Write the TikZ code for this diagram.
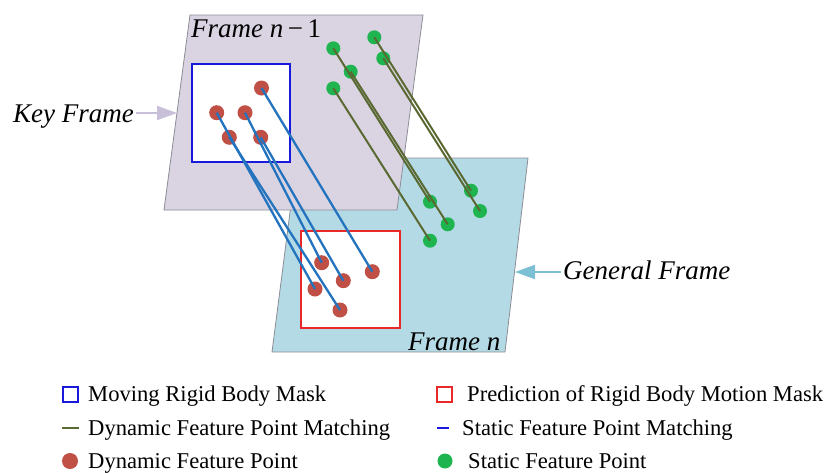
\documentclass[tikz,border=0pt]{standalone}
\usepackage{fontspec}
\setmainfont{Liberation Serif}
\usepackage{tikz}
\usetikzlibrary{arrows.meta}

\definecolor{keyfill}{RGB}{218,212,226}
\definecolor{genfill}{RGB}{180,219,229}
\definecolor{frameedge}{RGB}{140,140,150}
\definecolor{maskblue}{RGB}{25,25,220}
\definecolor{maskred}{RGB}{235,40,40}
\definecolor{dotred}{RGB}{192,80,70}
\definecolor{dotgreen}{RGB}{30,180,80}
\definecolor{lineblue}{RGB}{35,115,190}
\definecolor{lineolive}{RGB}{90,105,50}
\definecolor{keyarrow}{RGB}{200,192,216}
\definecolor{genarrow}{RGB}{125,192,212}

\begin{document}
\begin{tikzpicture}[x=1pt, y=-1pt,
        reddot/.style={shape=circle, fill=dotred, inner sep=0pt, minimum size=15pt},
        greendot/.style={shape=circle, fill=dotgreen, inner sep=0pt, minimum size=14pt},
        staticmatch/.style={line width=2.3pt, lineblue},
        dynmatch/.style={line width=2pt, lineolive},
        maskbox/.style={shape=rectangle, line width=2pt, inner sep=0pt},
        framelabel/.style={font=\fontsize{27}{32}\selectfont\itshape, inner sep=0pt, anchor=base west},
        legendtext/.style={font=\fontsize{22.6}{27}\selectfont, inner sep=0pt, anchor=base west}]
            \useasboundingbox (0,0) rectangle (825,472);

            % the two frames
            \filldraw[fill=genfill, draw=frameedge, line width=0.8pt] (297,158) -- (528,158) -- (505,352) -- (272,352) -- cycle;
            \filldraw[fill=keyfill, draw=frameedge, line width=0.8pt] (190,15) -- (423,15) -- (397,210) -- (164,210) -- cycle;

            % masks
            \draw[maskbox, draw=maskblue, fill=white] (192,64) rectangle (290,162);
            \draw[maskbox, draw=maskred, fill=white] (301,231) rectangle (400,328);

            % feature points, frame n-1
            \node[reddot] (ka) at (261.5, 88) {};
            \node[reddot] (kb) at (216.7, 112.7) {};
            \node[reddot] (kc) at (245, 112.7) {};
            \node[reddot] (kd) at (229.3, 137.3) {};
            \node[reddot] (ke) at (260.7, 137.3) {};

            \node[greendot] (ga) at (333.3, 48.3) {};
            \node[greendot] (gb) at (374.3, 37.3) {};
            \node[greendot] (gc) at (350.7, 71.7) {};
            \node[greendot] (gd) at (383.3, 58.3) {};
            \node[greendot] (ge) at (333.3, 88.3) {};

            % feature points, frame n
            \node[reddot] (np) at (321.7, 262.7) {};
            \node[reddot] (nq) at (372.3, 271.7) {};
            \node[reddot] (nr) at (343.3, 280.7) {};
            \node[reddot] (ns) at (315, 289) {};
            \node[reddot] (nt) at (340, 310) {};

            \node[greendot] (ha) at (430, 201.7) {};
            \node[greendot] (hb) at (471, 190.7) {};
            \node[greendot] (hc) at (447.7, 224.3) {};
            \node[greendot] (hd) at (480, 211) {};
            \node[greendot] (he) at (430, 240.7) {};

            % matchings
            \path [staticmatch] (ka.center) edge (nq.center);
            \path [staticmatch] (kb.center) edge (ns.center);
            \path [staticmatch] (kc.center) edge (np.center);
            \path [staticmatch] (kd.center) edge (nt.center);
            \path [staticmatch] (ke.center) edge (nr.center);

            \path [dynmatch] (ga.center) edge (ha.center);
            \path [dynmatch] (gb.center) edge (hb.center);
            \path [dynmatch] (gc.center) edge (hc.center);
            \path [dynmatch] (gd.center) edge (hd.center);
            \path [dynmatch] (ge.center) edge (he.center);

            % frame labels
            \node[framelabel] (prevlbl) at (191,37.5) {Frame n\,\textup{−\,1}};
            \node[framelabel] (curlbl) at (408,350) {Frame n};
            \node[framelabel] (keylbl) at (13,122) {Key Frame};
            \node[framelabel] (genlbl) at (563,279) {General Frame};
            \coordinate (keytip) at (177,113);
            \coordinate (gentip) at (515,272);
            \draw[keyarrow, line width=2pt, -{Triangle[length=20pt, width=14pt]}] (keylbl.east |- keytip) ++(2,0) -- (keytip);
            \draw[genarrow, line width=2pt, -{Triangle[length=20pt, width=14pt]}] (genlbl.west |- gentip) ++(-2,0) -- (gentip);

            % legend
            \node[maskbox, draw=maskblue, minimum size=15pt] (legmove) at (70.5,394.5) {};
            \node[legendtext] (txtmove) at (88,401.5) {Moving Rigid Body Mask};
            \node[maskbox, draw=maskred, minimum size=15pt] (legpred) at (444.5,394.5) {};
            \node[legendtext] (txtpred) at (467,401.5) {Prediction of Rigid Body Motion Mask};

            \coordinate (dynl) at (62,427.5);
            \coordinate (dynr) at (79,427.5);
            \draw[lineolive, line width=2pt] (dynl) -- (dynr);
            \node[legendtext] (txtdyn) at (88,435) {Dynamic Feature Point Matching};
            \coordinate (statl) at (437,427.5);
            \coordinate (statr) at (449,427.5);
            \draw[maskblue, line width=2pt] (statl) -- (statr);
            \node[legendtext] (txtstat) at (462,435) {Static Feature Point Matching};

            \node[reddot, minimum size=16pt] (legred) at (70,461) {};
            \node[legendtext] (txtred) at (88,468) {Dynamic Feature Point};
            \node[greendot, minimum size=15pt] (leggreen) at (445,461) {};
            \node[legendtext] (txtgreen) at (468,468) {Static Feature Point};
        \end{tikzpicture}
\end{document}
